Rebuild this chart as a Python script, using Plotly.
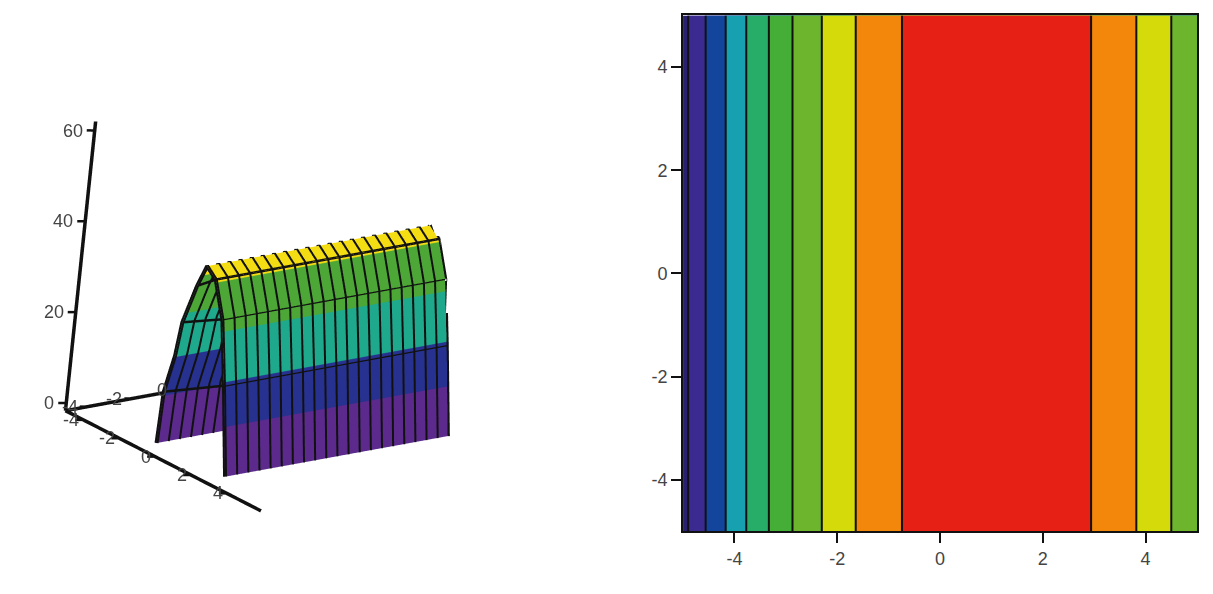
import plotly.graph_objects as go
import numpy as np

# --- 3D surface (profile across the ridge, constant along y)
profile_x = [0.0, 0.1, 0.5, 0.7, 1.28, 1.7, 2.23, 2.8, 3.25, 3.81]
profile_z = [1.3, 12.8, 21.6, 29.3, 38.5, 43.7, 41.8, 34.2, 20.5, 1.6]
surface_y = [-5 + 0.5 * i for i in range(21)]
band_levels = [12.0, 21.3, 31.8, 41.3]
band_colors = ["#5b2a8c", "#27318f", "#1fa98c", "#4ca736", "#f5dd14"]
x_ticks = [-4, -2, 0, 2, 4]
y_ticks = [-4, -2, 0]
z_ticks = [0, 20, 40, 60]
brace_pairs = [(1, 8), (3, 7), (4, 6)]
long_lines = [6, 7, 8]

# --- contour panel: level reached at each x position
contour_x = [-5, -4.9, -4.56, -4.17, -3.77, -3.33, -2.87, -2.30, -1.64, -0.74, 1.1, 2.94, 3.82, 4.5, 5]
contour_z = [0.7, 1, 2, 3, 4, 5, 6, 7, 8, 9, 9.9, 9, 8, 7, 6.4]
contour_y = [-5, 5]
contour_colors = ["#2a2070", "#3b2a8f", "#12459b", "#17a0b0", "#27ad68", "#44ae37",
                  "#6cb52d", "#d5da0b", "#f2870b", "#e62015"]
ticks2d = [-4, -2, 0, 2, 4]

X0, Y0, Z0 = -5, -5, -1.7
XEND, YEND, ZEND = 5.9, 5, 62
TDX, TDY = -0.12, -0.26  # tick direction: horizontal on screen

zmin, zmax = min(profile_z), max(profile_z)
edges = [zmin] + band_levels + [zmax]
scale3d = []
for i, c in enumerate(band_colors):
    scale3d += [[(edges[i] - zmin) / (zmax - zmin), c], [(edges[i + 1] - zmin) / (zmax - zmin), c]]

n = len(contour_colors)
scale2d = []
for i, c in enumerate(contour_colors):
    scale2d += [[i / n, c], [(i + 1) / n, c]]

fig = go.Figure()
fig.add_trace(go.Surface(
    x=profile_x, y=surface_y, z=np.tile(profile_z, (len(surface_y), 1)),
    surfacecolor=np.tile(profile_z, (len(surface_y), 1)),
    colorscale=scale3d, cmin=zmin, cmax=zmax, showscale=False, hoverinfo="skip",
    lighting=dict(ambient=1, diffuse=0, specular=0, roughness=1, fresnel=0),
    contours=dict(x=dict(highlight=False), y=dict(highlight=False), z=dict(highlight=False)),
))

def seg(xs, ys, zs, w=6):
    fig.add_trace(go.Scatter3d(x=xs, y=ys, z=zs, mode="lines",
                               line=dict(color="#111", width=w), hoverinfo="skip", showlegend=False))

for yv in surface_y:
    seg(profile_x, [yv] * len(profile_x), profile_z, 8)

seg([X0, XEND], [Y0, Y0], [Z0, Z0], 7)
seg([X0, X0], [Y0, YEND], [Z0, Z0], 7)
seg([X0, X0], [Y0, Y0], [Z0, ZEND], 7)
annots = []
def label(x, y, z, t, shift=0):
    annots.append(dict(x=x, y=y, z=z, text=t, showarrow=False, xanchor="right", yanchor="middle", xshift=shift,
                       font=dict(family="Liberation Sans", size=18, color="#444")))
for v in x_ticks:
    seg([v, v + TDX], [Y0, Y0 + TDY], [Z0, Z0], 5); label(v + TDX, Y0 + TDY, Z0, str(v), 6)
for v in y_ticks:
    seg([X0, X0 + TDX], [v, v + TDY], [Z0, Z0], 5); label(X0 + TDX, v + TDY, Z0, str(v))
for v in z_ticks:
    seg([X0, X0 + TDX], [Y0, Y0 + TDY], [v, v], 5); label(X0 + TDX, Y0 + TDY, v, str(v), -2)
for i, j in brace_pairs:
    seg([profile_x[i], profile_x[j]], [-5, -5], [profile_z[i], profile_z[j]], 5)
for i in long_lines:
    seg([profile_x[i], profile_x[i]], [-5, 5], [profile_z[i], profile_z[i]], 5)

fig.add_trace(go.Contour(
    x=contour_x, y=contour_y, z=[contour_z, contour_z],
    colorscale=scale2d, zmin=0, zmax=n, showscale=False, hoverinfo="skip",
    contours=dict(coloring="fill", start=1, end=9, size=1),
    line=dict(color="#111", width=2), xaxis="x", yaxis="y",
))

noax = dict(visible=False, showspikes=False)
ax2d = dict(range=[-5, 5], tickvals=ticks2d, ticktext=[str(t) for t in ticks2d], ticks="outside", ticklen=10,
            tickwidth=2, tickcolor="#111", showline=True, linecolor="#111", linewidth=2, mirror=True,
            showgrid=False, zeroline=False, tickfont=dict(family="Liberation Sans", size=18, color="#444"))
cx, cy, cz = 0.0580, 0.0382, -0.0526
R = 1.667
fig.update_layout(
    width=1213, height=594, margin=dict(l=0, r=0, t=0, b=0),
    paper_bgcolor="white", plot_bgcolor="white", showlegend=False,
    font=dict(family="Liberation Sans", size=18, color="#444"),
    xaxis=dict(domain=[0.5565, 0.9802], **ax2d),
    yaxis=dict(domain=[0.1187, 0.9874], **ax2d),
    scene=dict(
        domain=dict(x=[0, 0.462], y=[0, 0.9744]),
        xaxis=dict(range=[-6, 6], **noax), yaxis=dict(range=[-6, 5], **noax), zaxis=dict(range=[-2, 62], **noax),
        aspectmode="manual", aspectratio=dict(x=1.188, y=1.094, z=1.072),
        annotations=annots,
        camera=dict(projection=dict(type="orthographic"),
                    eye=dict(x=0.7109 * R + cx, y=-0.6175 * R + cy, z=0.3364 * R + cz),
                    up=dict(x=-0.3207, y=0.1410, z=0.9366),
                    center=dict(x=cx, y=cy, z=cz)),
    ),
)
fig.write_html("out.html")
